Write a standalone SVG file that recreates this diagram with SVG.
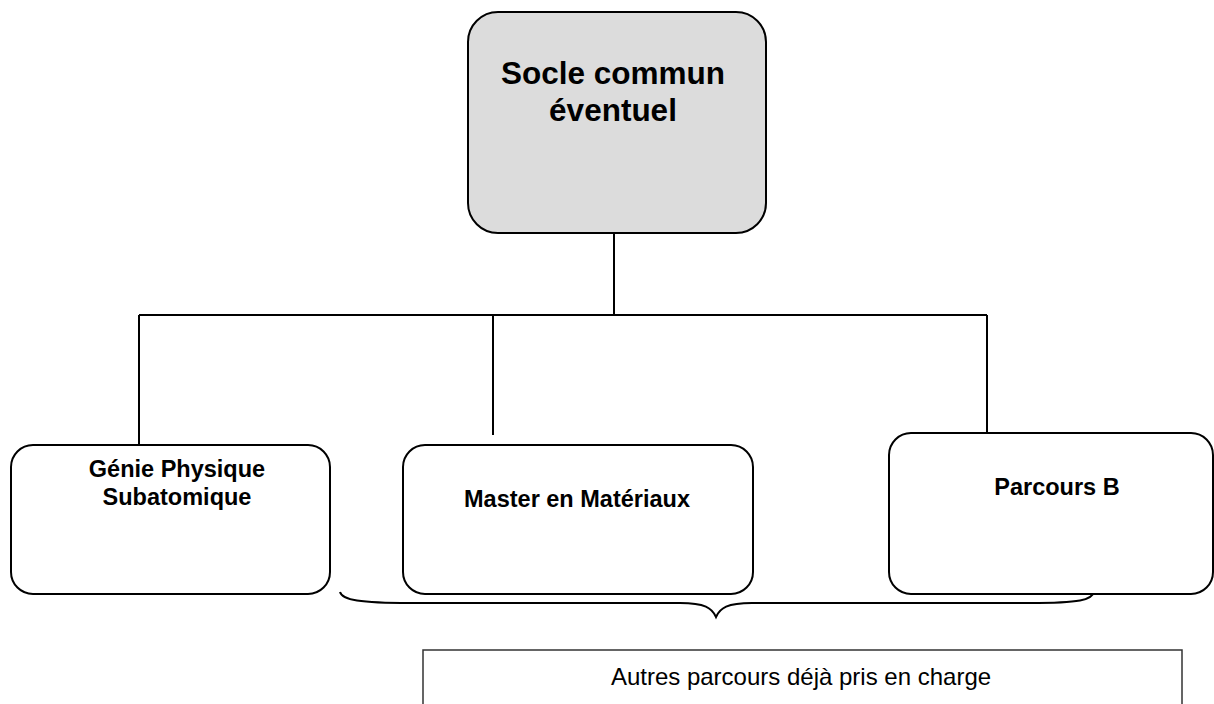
<svg xmlns="http://www.w3.org/2000/svg" width="1214" height="704" viewBox="0 0 1214 704">
<style>
.box{fill:#fff;stroke:#000;stroke-width:2}
.top{fill:#dcdcdc;stroke:#000;stroke-width:2}
.conn{fill:none;stroke:#000;stroke-width:2}
.b{font-family:"Liberation Sans",Arial,sans-serif;font-weight:bold;text-anchor:middle;fill:#000}
.r{font-family:"Liberation Sans",Arial,sans-serif;text-anchor:middle;fill:#000}
</style>
<rect width="1214" height="704" fill="#fff"/>
<g id="connectors">
<path class="conn" d="M614,233 V315 M139,315 H987 M139,315 V445 M493,315 V435 M987,315 V433"/>
<path class="conn" d="M340,592 C342,600 360,603 410,603 L680,603 C705,603 712,608 716,617 C720,608 727,603 752,603 L1030,603 C1080,603 1092,600 1094,592"/>
</g>
<g id="socle">
<rect class="top" x="468" y="12" width="298" height="221" rx="30"/>
<text class="b" x="613" y="84" font-size="31.5">Socle commun</text>
<text class="b" x="613" y="121" font-size="31.5">éventuel</text>
</g>
<g id="genie">
<rect class="box" x="11" y="445" width="319" height="149" rx="22"/>
<text class="b" x="177" y="477" font-size="23.5">Génie Physique</text>
<text class="b" x="177" y="505" font-size="23.5">Subatomique</text>
</g>
<g id="master">
<rect class="box" x="403" y="445" width="350" height="149" rx="22"/>
<text class="b" x="577" y="507" font-size="23.5">Master en Matériaux</text>
</g>
<g id="parcoursB">
<rect class="box" x="889" y="433" width="324" height="161" rx="22"/>
<text class="b" x="1057" y="495" font-size="23.5">Parcours B</text>
</g>
<g id="autres">
<rect x="423" y="650" width="759" height="80" fill="#fff" stroke="#333" stroke-width="1.5"/>
<text class="r" x="801" y="685" font-size="24">Autres parcours déjà pris en charge</text>
</g>
</svg>
